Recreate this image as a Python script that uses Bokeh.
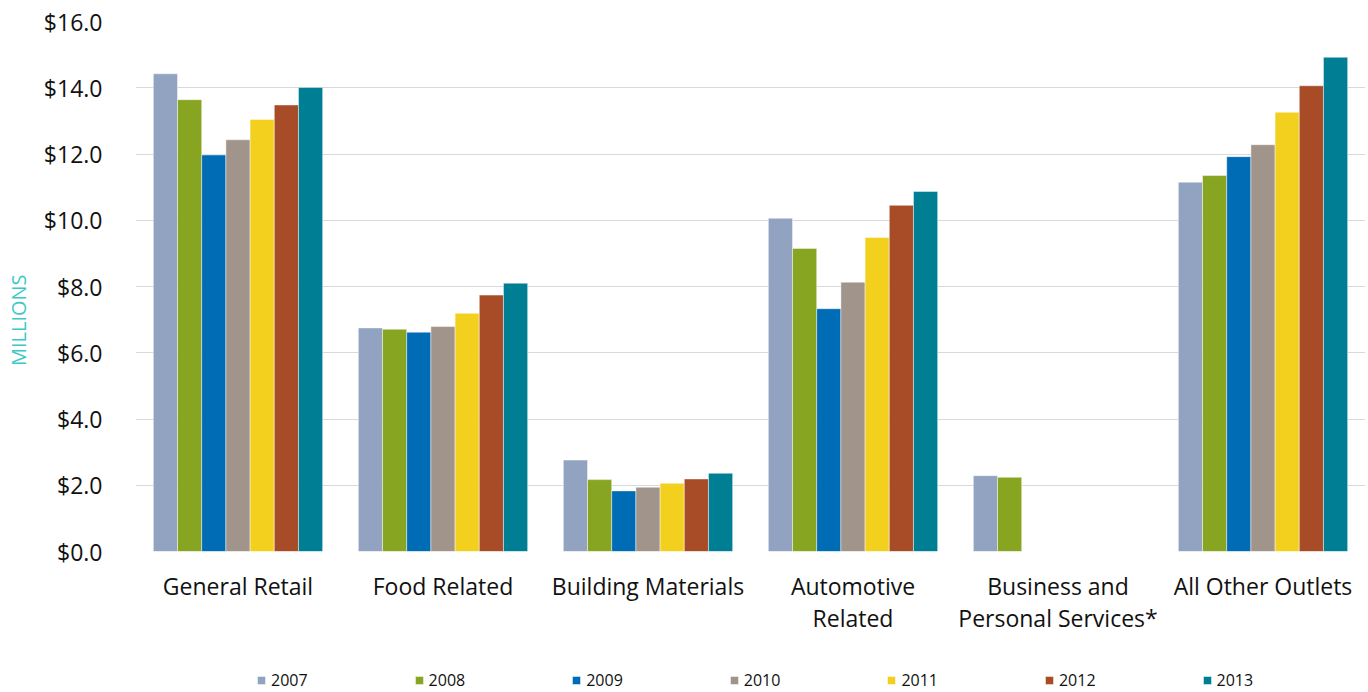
import math
from bokeh.plotting import figure
from bokeh.layouts import column
from bokeh.models import (Range1d, FixedTicker, NumeralTickFormatter, Legend, LegendItem,
                          ColumnDataSource)
from bokeh.transform import dodge
from bokeh.embed import file_html
from bokeh.resources import INLINE

nan = float("nan")

categories = ["General Retail", "Food Related", "Building Materials",
              "Automotive\nRelated", "Business and\nPersonal Services*", "All Other Outlets"]
years = ["2007", "2008", "2009", "2010", "2011", "2012", "2013"]

v2007 = [14.42, 6.75, 2.76, 10.06, 2.29, 11.15]
v2008 = [13.64, 6.71, 2.17, 9.15, 2.24, 11.35]
v2009 = [11.97, 6.62, 1.83, 7.33, nan, 11.92]
v2010 = [12.43, 6.79, 1.94, 8.13, nan, 12.28]
v2011 = [13.04, 7.19, 2.06, 9.48, nan, 13.26]
v2012 = [13.48, 7.74, 2.19, 10.45, nan, 14.06]
v2013 = [14.01, 8.10, 2.36, 10.87, nan, 14.92]

series = [v2007, v2008, v2009, v2010, v2011, v2012, v2013]
colors = ["#91A3C0", "#88A522", "#006CB5", "#A0948B", "#F2D01D", "#A84C27", "#007E93"]

FONT = "Open Sans"
BAR_W = 0.118

p = figure(width=1368, height=661, output_backend="svg", toolbar_location=None,
           x_range=Range1d(-0.5, 5.5), y_range=Range1d(0, 16),
           min_border_left=135, min_border_right=3, min_border_top=21, min_border_bottom=110)
p.outline_line_color = None
p.background_fill_color = "white"

src = ColumnDataSource(dict(x=list(range(len(categories))),
                            **{"y" + yr: s for yr, s in zip(years, series)}))

for j, yr in enumerate(years):
    off = (j - 3) * BAR_W
    p.vbar(x=dodge("x", off, range=p.x_range), top="y" + yr, width=BAR_W, source=src,
           fill_color=colors[j], line_color="white", line_alpha=0.45, line_width=1)

# y axis
p.yaxis.ticker = FixedTicker(ticks=list(range(0, 17, 2)))
p.yaxis.formatter = NumeralTickFormatter(format="$0.0")
p.yaxis.axis_line_color = None
p.yaxis.major_tick_line_color = None
p.yaxis.minor_tick_line_color = None
p.yaxis.major_label_text_font = FONT
p.yaxis.major_label_text_font_size = "23px"
p.yaxis.major_label_text_color = "#111111"
p.yaxis.major_label_standoff = 27
p.yaxis.axis_label = "MILLIONS" + "\u00a0" * 13
p.yaxis.axis_label_text_font = FONT
p.yaxis.axis_label_text_font_size = "20px"
p.yaxis.axis_label_text_font_style = "normal"
p.yaxis.axis_label_text_color = "#3CC8C8"
p.yaxis.axis_label_standoff = 9

# x axis
p.xaxis.ticker = FixedTicker(ticks=list(range(len(categories))))
p.xaxis.major_label_overrides = {i: c for i, c in enumerate(categories)}
p.xaxis.axis_line_color = None
p.xaxis.major_tick_line_color = None
p.xaxis.minor_tick_line_color = None
p.xaxis.major_label_text_font = FONT
p.xaxis.major_label_text_font_size = "23px"
p.xaxis.major_label_text_color = "#111111"
p.xaxis.major_label_text_line_height = 1.0
p.xaxis.major_label_standoff = 12

p.xgrid.grid_line_color = None
p.ygrid.grid_line_color = "#d9d9d9"
p.ygrid.grid_line_width = 1

# legend strip below the chart (its bars lie outside its y range, only the legend shows)
lg = figure(width=1368, height=31, output_backend="svg", toolbar_location=None,
            x_range=Range1d(-0.5, 5.5), y_range=Range1d(100, 101),
            x_axis_type=None, y_axis_type=None, min_border=0)
lg.outline_line_color = None
lg.grid.visible = False

lg_renderers = []
for j, yr in enumerate(years):
    off = (j - 3) * BAR_W
    r = lg.vbar(x=dodge("x", off, range=lg.x_range), top="y" + yr, width=BAR_W, source=src,
                fill_color=colors[j], line_color="white", line_alpha=0.45, line_width=1)
    lg_renderers.append(r)

legend = Legend(items=[LegendItem(label=yr, renderers=[r]) for yr, r in zip(years, lg_renderers)],
                orientation="horizontal", location=(121, 1),
                border_line_color=None, background_fill_alpha=0,
                padding=0, margin=0, spacing=106,
                glyph_width=10, glyph_height=10, label_standoff=5,
                label_text_font=FONT, label_text_font_size="16px", label_text_color="#111111")
lg.add_layout(legend)

layout = column(p, lg, spacing=0)

open("out.html", "w").write(file_html(layout, INLINE))
